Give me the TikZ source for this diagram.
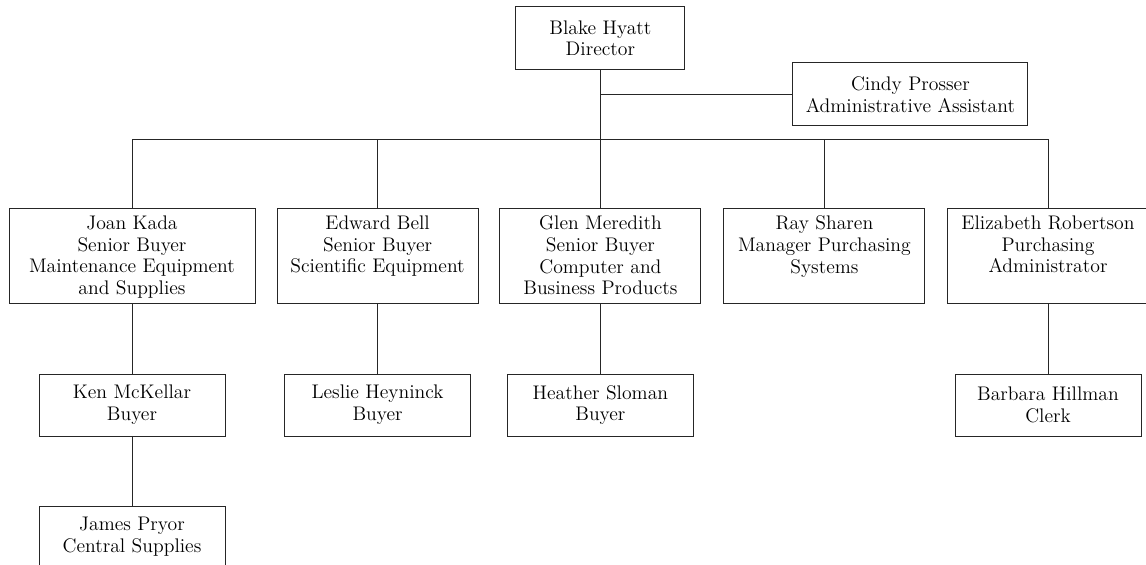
\documentclass[tikz,border=0pt]{standalone}
\usepackage{tikz}
\usetikzlibrary{calc}

\begin{document}
\begin{tikzpicture}[every node/.style={outer sep=0pt,font=\fontsize{14}{15.4}\selectfont}]
\tikzstyle{box}=[draw=black!85,line width=0.7pt,inner sep=0pt,align=center]
\tikzstyle{wide}=[box,minimum height=2.375cm]
\tikzstyle{small}=[box,minimum width=4.65cm,minimum height=1.55cm]
\tikzstyle{txt}=[anchor=north,align=center,inner sep=5pt]
\tikzstyle{link}=[draw=black!85,line width=0.7pt]

\useasboundingbox (0,0) rectangle (28.65,-14.125);
\clip (0,0) rectangle (28.65,-14.125);

% top
\node (blake) [box,minimum width=4.225cm,minimum height=1.575cm] at (15.01,-0.96) {Blake Hyatt\\Director};
\node (cindy) [box,minimum width=5.875cm,minimum height=1.575cm] at (22.76,-2.36) {Cindy Prosser\\Administrative Assistant};
\coordinate (bar) at (0,-3.475);

% senior level
\node (joan) [wide,minimum width=6.15cm] at (3.3,-6.41) {};
\node (joan-t) [txt] at (joan.north) {Joan Kada\\Senior Buyer\\Maintenance Equipment\\and Supplies};
\node (edward) [wide,minimum width=5.025cm] at (9.44,-6.41) {};
\node (edward-t) [txt] at (edward.north) {Edward Bell\\Senior Buyer\\Scientific Equipment};
\node (glen) [wide,minimum width=5.025cm] at (15.01,-6.41) {};
\node (glen-t) [txt] at (glen.north) {Glen Meredith\\Senior Buyer\\Computer and\\Business Products};
\node (ray) [wide,minimum width=5.025cm] at (20.61,-6.41) {};
\node (ray-t) [txt] at (ray.north) {Ray Sharen\\Manager Purchasing\\Systems};
\node (eliz) [wide,minimum width=5.05cm] at (26.2,-6.41) {};
\node (eliz-t) [txt] at (eliz.north) {Elizabeth Robertson\\Purchasing\\Administrator};

% buyers and clerks
\node (ken) [small] at (3.3,-10.125) {Ken McKellar\\Buyer};
\node (leslie) [small] at (9.44,-10.125) {Leslie Heyninck\\Buyer};
\node (heather) [small] at (15.01,-10.125) {Heather Sloman\\Buyer};
\node (barbara) [small] at (26.2,-10.125) {Barbara Hillman\\Clerk};
\node (james) [small] at (3.3,-13.425) {James Pryor\\Central Supplies};

% connectors
\draw [link] (blake.south) -- (glen.north);
\draw [link] (cindy.west) -- (cindy.west -| blake.south);
\draw [link] (joan.north |- bar) -- (eliz.north |- bar);
\foreach \n in {joan,edward,ray,eliz}
  \draw [link] (\n.north) -- (\n.north |- bar);
\draw [link] (joan.south) -- (ken.north);
\draw [link] (ken.south) -- (james.north);
\draw [link] (edward.south) -- (leslie.north);
\draw [link] (glen.south) -- (heather.north);
\draw [link] (eliz.south) -- (barbara.north);
\end{tikzpicture}
\end{document}
